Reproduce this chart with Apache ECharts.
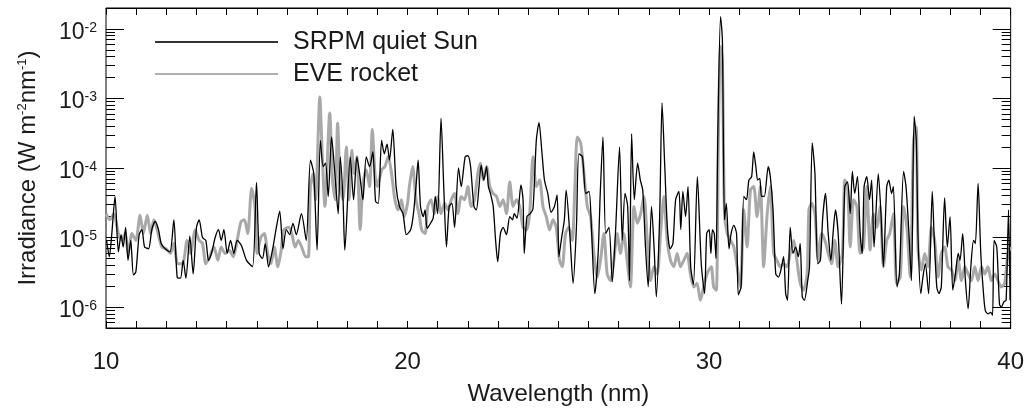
<!DOCTYPE html>
<html><head><meta charset="utf-8">
<script src="https://cdn.jsdelivr.net/npm/echarts@6/dist/echarts.min.js"></script>
<style>html,body{margin:0;padding:0;background:#fff}#c{width:1027px;height:414px}</style>
</head><body><div id="c"></div>
<script>
const srpmWl = [10.02,10.11,10.19,10.30,10.41,10.50,10.57,10.65,10.73,10.82,10.91,10.99,11.10,11.19,11.28,11.41,11.52,11.63,11.74,11.83,11.96,12.12,12.25,12.36,12.47,12.56,12.65,12.78,12.89,13.00,13.09,13.20,13.31,13.40,13.51,13.62,13.73,13.82,13.91,14.02,14.13,14.24,14.35,14.49,14.66,14.86,14.99,15.08,15.19,15.28,15.39,15.52,15.65,15.76,15.87,15.98,16.09,16.20,16.31,16.48,16.64,16.78,16.89,17.00,17.11,17.20,17.28,17.37,17.48,17.59,17.70,17.77,17.86,17.92,18.10,18.21,18.32,18.41,18.52,18.63,18.74,18.85,18.94,19.03,19.14,19.23,19.32,19.40,19.51,19.62,19.73,19.85,19.96,
20.10,20.19,20.28,20.35,20.43,20.52,20.58,20.65,20.76,20.85,20.92,21.00,21.11,21.20,21.29,21.38,21.47,21.56,21.69,21.78,21.91,22.00,22.09,22.20,22.28,22.37,22.44,22.53,22.62,22.68,22.75,22.84,22.92,22.99,23.08,23.17,23.28,23.39,23.48,23.54,23.63,23.76,23.83,23.87,23.96,24.07,24.16,24.27,24.36,24.45,24.54,24.65,24.76,24.87,24.96,25.02,25.11,25.20,25.26,25.38,25.49,25.60,25.68,25.80,25.91,26.02,26.10,26.21,26.32,26.39,26.48,26.57,26.68,26.79,26.90,27.03,27.12,27.21,27.30,27.36,27.43,27.52,27.63,27.72,27.80,27.89,27.98,28.09,28.18,28.25,28.36,28.44,28.53,28.62,28.71,28.80,28.89,29.00,29.06,29.13,29.22,29.30,29.39,29.48,29.61,29.74,29.85,29.92,
30.00,30.06,30.11,30.17,30.23,30.29,30.38,30.44,30.51,30.57,30.66,30.73,30.82,30.91,30.97,31.06,31.15,31.24,31.32,31.41,31.48,31.55,31.61,31.68,31.74,31.83,31.96,32.03,32.12,32.21,32.30,32.38,32.47,32.54,32.60,32.69,32.78,32.87,32.96,33.02,33.09,33.16,33.27,33.33,33.42,33.51,33.60,33.69,33.77,33.86,33.95,34.04,34.11,34.19,34.28,34.39,34.50,34.59,34.68,34.75,34.83,34.92,35.01,35.08,35.14,35.23,35.32,35.39,35.47,35.61,35.70,35.78,35.89,35.96,36.05,36.11,36.23,36.31,36.45,36.53,36.62,36.71,36.80,36.87,36.93,37.02,37.09,37.17,37.28,37.40,37.46,37.55,37.62,37.70,37.81,37.90,37.99,38.08,38.17,38.26,38.32,38.41,38.50,38.59,38.68,38.77,38.83,38.92,39.01,39.10,39.16,39.25,39.34,39.40,39.45,39.54,39.63,39.69,39.78,39.85,39.93,39.98];
const srpmIrr = [9.1e-6,5.3e-6,1.1e-5,3.9e-5,6.2e-6,1.1e-5,7.3e-6,1.4e-5,4.7e-6,9.1e-6,2.9e-6,3.2e-6,1.1e-5,1.3e-5,7.3e-6,6.9e-6,1.3e-5,1.7e-5,1.3e-5,8.2e-6,6.9e-6,6.2e-6,1.8e-5,2.7e-6,2.6e-6,4.7e-6,2.6e-6,1.05e-5,3.0e-6,1.4e-5,1.8e-5,1.0e-5,9.1e-6,4.7e-6,6.2e-6,1.0e-5,1.3e-5,9.1e-6,1.3e-5,5.9e-6,9.1e-6,5.9e-6,9.1e-6,7.7e-6,4.7e-6,3.8e-6,6.2e-5,5.9e-6,5.0e-6,8.2e-6,3.8e-6,6.6e-6,1.4e-5,2.4e-5,6.9e-6,1.3e-5,1.1e-5,1.6e-5,1.1e-5,2.2e-5,9.1e-6,1.3e-4,8.3e-5,6.6e-6,2.5e-4,1.05e-4,1.17e-4,3.9e-5,2.8e-4,8.3e-5,2.2e-5,1.45e-4,3.5e-5,6.6e-6,1.45e-4,3.5e-5,1.45e-4,8.3e-5,3.5e-5,1.45e-4,1.05e-4,1.7e-4,3.3e-5,3.1e-5,2.5e-4,1.6e-4,2.2e-4,1.3e-4,3.6e-4,5.4e-5,2.8e-5,2.2e-5,1.1e-5,
1.28e-5,2.1e-5,5.4e-5,1.3e-4,2.8e-5,2.0e-5,2.5e-5,1.35e-5,1.6e-5,1.9e-5,3.9e-5,2.2e-5,5.2e-4,5.4e-5,7.3e-6,2.8e-5,3.1e-5,1.4e-5,1.0e-4,5.4e-5,1.45e-4,1.5e-4,1.05e-4,2.8e-5,2.5e-5,5.4e-5,1.1e-4,6.7e-5,1.05e-4,5.4e-5,4.3e-5,2.8e-5,9.1e-6,4.5e-6,1.14e-5,1.4e-5,1.1e-5,2.0e-5,1.8e-5,2.2e-5,1.9e-5,5.7e-5,3.5e-5,5.9e-6,2.0e-5,2.2e-5,2.6e-5,2.5e-4,4.5e-4,1.8e-4,6.7e-5,4.3e-5,2.3e-5,2.8e-5,4.1e-5,5.3e-6,1.0e-5,1.8e-5,4.8e-5,1.14e-5,2.2e-6,1.4e-5,1.6e-4,1.45e-4,4.3e-5,4.6e-5,1.3e-5,1.56e-6,5.9e-6,4.3e-5,2.8e-4,1.14e-5,1.4e-5,2.3e-6,1.3e-5,2.0e-4,9.1e-6,4.3e-5,2.8e-5,2.4e-6,3.1e-4,3.5e-5,1.17e-4,6.7e-5,4.8e-5,7.3e-6,1.95e-6,2.8e-5,6.6e-6,1.4e-6,2.0e-5,8.6e-4,1.05e-4,1.3e-5,6.9e-6,8.2e-6,3.5e-5,4.6e-5,1.3e-5,4.6e-5,2.0e-5,5.4e-5,3.8e-6,2.1e-6,7.5e-5,4.2e-6,1.56e-6,1.14e-5,
1.3e-5,5.9e-6,1.3e-5,1.14e-5,5.0e-6,3.2e-4,1.5e-2,7.1e-3,1.8e-5,3.1e-5,6.9e-6,1.14e-5,1.5e-5,1.14e-5,1.5e-6,1.95e-6,3.9e-5,3.5e-5,6.7e-5,7.5e-5,1.7e-4,1.05e-4,6.7e-5,7.1e-5,3.9e-5,3.9e-5,1.05e-4,7.5e-5,2.5e-5,3.0e-6,2.7e-6,3.4e-6,5.3e-6,1.56e-6,1.25e-6,1.4e-5,5.9e-6,7.3e-6,5.3e-6,8.2e-6,1.4e-6,1.25e-6,2.4e-6,3.8e-6,2.3e-4,8.3e-5,4.2e-6,4.7e-6,2.0e-5,4.3e-5,1.14e-5,4.7e-6,1.14e-5,2.5e-5,1.14e-5,1.1e-6,5.4e-5,6.3e-5,2.2e-5,8.9e-5,4.3e-5,7.5e-5,1.14e-5,5.9e-6,5.4e-5,7.5e-5,3.5e-5,6.7e-5,7.3e-6,8.3e-5,2.2e-5,3.8e-6,5.4e-5,6.7e-5,4.3e-5,5.4e-5,1.95e-6,3.0e-6,8.9e-5,5.4e-5,1.3e-5,2.4e-6,5.5e-4,2.5e-4,1.0e-5,1.56e-6,2.7e-6,4.2e-6,1.56e-6,4.6e-5,1.14e-5,1.95e-6,1.56e-6,1.95e-6,3.7e-5,7.3e-6,2.0e-5,1.75e-6,3.0e-6,5.9e-6,4.7e-6,1.14e-5,2.4e-6,9.5e-7,3.8e-6,9.1e-6,8.2e-6,6.0e-5,5.9e-6,1.56e-6,8.9e-7,8.0e-7,8.4e-7,7.6e-7,9.1e-6,7.3e-6,1.1e-6,1.0e-6,1.2e-6,1.25e-6,2.5e-5,1.25e-6];
const eveWl = [10.00,10.13,10.26,10.41,10.53,10.63,10.74,10.86,10.99,11.13,11.24,11.37,11.48,11.59,11.70,11.85,11.99,12.14,12.25,12.38,12.54,12.69,12.80,12.96,13.09,13.20,13.31,13.44,13.58,13.71,13.82,13.95,14.08,14.22,14.35,14.48,14.59,14.70,14.83,14.94,15.01,15.14,15.25,15.36,15.47,15.58,15.70,15.81,15.89,16.05,16.16,16.27,16.38,16.49,16.62,16.71,16.78,16.87,16.95,17.09,17.17,17.26,17.42,17.51,17.60,17.68,17.77,17.86,17.97,18.06,18.15,18.23,18.32,18.43,18.52,18.63,18.74,18.83,18.92,19.00,19.14,19.25,19.36,19.47,19.58,19.69,19.80,19.89,20.00,
20.06,20.17,20.28,20.39,20.47,20.58,20.67,20.78,20.89,21.00,21.11,21.23,21.34,21.45,21.56,21.67,21.78,21.89,22.00,22.11,22.22,22.33,22.42,22.51,22.62,22.73,22.84,22.95,23.06,23.17,23.28,23.39,23.50,23.61,23.72,23.83,23.94,24.05,24.16,24.27,24.38,24.49,24.60,24.71,24.82,24.93,25.04,25.13,25.24,25.35,25.46,25.55,25.63,25.74,25.85,25.96,26.07,26.18,26.29,26.40,26.51,26.62,26.73,26.84,26.95,27.06,27.17,27.28,27.39,27.51,27.62,27.73,27.84,27.95,28.06,28.17,28.28,28.39,28.50,28.61,28.72,28.83,28.94,29.05,29.16,29.27,29.38,29.49,29.60,29.71,29.82,29.93,
30.07,30.15,30.24,30.31,30.38,30.44,30.51,30.60,30.71,30.82,30.93,31.04,31.15,31.26,31.37,31.48,31.59,31.70,31.81,31.92,32.03,32.14,32.25,32.36,32.47,32.58,32.69,32.80,32.91,33.02,33.13,33.25,33.31,33.40,33.51,33.62,33.73,33.84,33.95,34.06,34.17,34.28,34.42,34.50,34.59,34.68,34.79,34.90,35.01,35.12,35.23,35.34,35.45,35.56,35.67,35.78,35.89,35.99,36.11,36.22,36.34,36.45,36.56,36.67,36.78,36.87,36.93,37.04,37.15,37.26,37.37,37.48,37.59,37.70,37.81,37.92,38.04,38.15,38.26,38.37,38.48,38.59,38.70,38.81,38.92,39.03,39.14,39.25,39.36,39.47,39.58,39.69,39.80,39.91,40.00];
const eveIrr = [2.2e-5,1.8e-5,2.2e-5,1.14e-5,9.1e-6,1.14e-5,5.9e-6,1.14e-5,9.1e-6,2.1e-5,1.14e-5,2.1e-5,1.14e-5,1.8e-5,1.28e-5,7.3e-6,6.9e-6,5.9e-6,8.2e-6,4.2e-6,4.2e-6,9.1e-6,5.9e-6,1.28e-5,9.1e-6,8.2e-6,4.2e-6,5.3e-6,7.3e-6,4.7e-6,7.3e-6,5.9e-6,6.6e-6,5.3e-6,9.1e-6,1.7e-5,1.8e-5,1.14e-5,5.1e-5,2.8e-5,5.9e-6,1.02e-5,1.14e-5,5.9e-6,4.2e-6,7.3e-6,3.8e-6,6.6e-6,1.28e-5,1.4e-5,1.14e-5,7.3e-6,9.1e-6,7.3e-6,5.3e-6,5.3e-6,5.4e-5,8.3e-5,3.5e-5,1.05e-3,1.6e-4,2.8e-5,6.2e-4,6.7e-5,3.5e-5,4.4e-4,5.4e-5,3.5e-5,2.0e-4,3.5e-5,1.8e-4,8.3e-5,1.45e-4,1.3e-5,6.0e-5,9.4e-5,5.4e-5,3.6e-4,8.3e-5,5.4e-5,9.4e-5,1.05e-4,1.45e-4,8.3e-5,3.5e-5,2.5e-5,3.5e-5,2.0e-5,3.1e-5,
5.4e-5,1.05e-4,3.5e-5,2.1e-5,1.28e-5,1.14e-5,2.8e-5,3.5e-5,2.2e-5,3.9e-5,2.2e-5,3.1e-5,2.5e-5,3.5e-5,4.3e-5,2.2e-5,3.9e-5,3.5e-5,5.4e-5,2.8e-5,3.5e-5,8.3e-5,1.17e-4,6.7e-5,1.05e-4,5.4e-5,4.3e-5,3.9e-5,2.8e-5,3.5e-5,2.2e-5,6.3e-5,2.8e-5,3.5e-5,2.8e-5,1.4e-5,1.28e-5,2.2e-5,1.45e-4,5.4e-5,6.7e-5,2.8e-5,2.0e-5,1.28e-5,1.8e-5,1.4e-5,4.7e-6,3.8e-6,1.14e-5,1.4e-5,9.1e-6,5.4e-5,2.8e-4,2.3e-4,8.3e-5,2.8e-5,2.0e-5,5.9e-6,2.7e-6,4.7e-6,1.14e-5,3.0e-6,2.4e-6,4.7e-6,1.14e-5,5.9e-6,1.14e-5,4.7e-6,1.95e-6,2.8e-5,1.6e-5,2.2e-5,3.9e-5,9.1e-6,2.4e-6,3.8e-6,3.0e-6,1.14e-5,3.9e-5,9.1e-6,4.7e-6,3.8e-6,5.9e-6,3.8e-6,4.7e-6,5.9e-6,3.0e-6,1.95e-6,2.2e-6,1.25e-6,1.95e-6,3.0e-6,
3.8e-6,1.95e-6,1.75e-6,3.2e-4,5.6e-3,3.5e-3,2.2e-5,1.14e-5,9.1e-6,7.3e-6,3.8e-6,1.95e-6,2.5e-5,7.3e-6,4.8e-5,5.4e-5,2.0e-5,5.4e-5,3.8e-6,2.0e-5,5.4e-5,5.9e-6,4.7e-6,3.8e-6,4.2e-6,3.8e-6,5.9e-6,9.1e-6,4.7e-6,2.2e-6,1.75e-6,3.0e-6,2.5e-5,3.1e-5,2.2e-5,4.7e-6,1.14e-5,9.1e-6,5.9e-6,4.2e-6,9.1e-6,3.8e-6,5.9e-6,6.7e-5,5.4e-5,7.3e-6,3.5e-5,2.8e-5,5.9e-6,7.3e-6,5.4e-5,6.6e-6,2.2e-5,1.4e-5,2.8e-5,3.8e-6,9.1e-6,1.14e-5,2.2e-5,2.2e-6,2.7e-6,2.8e-5,1.4e-5,2.7e-6,2.5e-4,3.9e-4,6.6e-6,3.4e-6,5.9e-6,3.8e-6,1.4e-5,9.1e-6,2.7e-6,5.9e-6,7.3e-6,3.8e-6,3.4e-6,2.4e-6,4.7e-6,2.4e-6,3.8e-6,3.0e-6,2.4e-6,3.8e-6,2.4e-6,3.8e-6,3.0e-6,3.8e-6,2.4e-6,3.0e-6,2.4e-6,1.95e-6,2.2e-6,5.9e-6,7.3e-6];
const xTickLabels = [10, 20, 30, 40];
const yMajorTicks = [1e-6, 1e-5, 1e-4, 1e-3, 1e-2];
const yMinorTicks = [6e-7,7e-7,8e-7,9e-7,2e-6,3e-6,4e-6,5e-6,6e-6,7e-6,8e-6,9e-6,2e-5,3e-5,4e-5,5e-5,6e-5,7e-5,8e-5,9e-5,2e-4,3e-4,4e-4,5e-4,6e-4,7e-4,8e-4,9e-4,2e-3,3e-3,4e-3,5e-3,6e-3,7e-3,8e-3,9e-3];
const seriesNames = ['SRPM quiet Sun', 'EVE rocket'];

const FONT = 'Liberation Sans';
const TXT = '#1a1a1a';
const pair = (xs, ys) => xs.map((x, i) => [x, ys[i]]);

const chart = echarts.init(document.getElementById('c'), null, {renderer: 'canvas'});

function yAxisBase(pos, major, showLabel) {
  return {
    type: 'log', logBase: 10, min: 5e-7, max: 2e-2, position: pos,
    axisLine: {show: false},
    splitLine: {show: false},
    axisTick: {show: true, inside: true, length: major ? 18 : 9, customValues: major ? yMajorTicks : yMinorTicks,
      lineStyle: {color: '#000', width: 1}},
    axisLabel: showLabel ? {
      show: true, customValues: yMajorTicks, margin: 9, padding: [7, 0, 0, 0],
      formatter: v => '{b|10}{s|' + Math.round(Math.log10(v)) + '}',
      rich: {
        b: {fontFamily: FONT, fontSize: 23, color: TXT, lineHeight: 23, verticalAlign: 'bottom'},
        s: {fontFamily: FONT, fontSize: 14, color: TXT, lineHeight: 7, verticalAlign: 'top'}
      }
    } : {show: false}
  };
}

const option = {
  animation: false,
  backgroundColor: '#fff',
  grid: {left: 106, right: 14, top: 8, bottom: 86, show: true, borderColor: '#000', borderWidth: 1, backgroundColor: 'transparent'},
  legend: {
    orient: 'vertical', left: 150, top: 23, itemWidth: 123, itemHeight: 2, itemGap: 4,
    icon: 'rect',
    data: [
      {name: seriesNames[0], itemStyle: {color: '#333'}},
      {name: seriesNames[1], itemStyle: {color: '#b0b0b0'}}
    ],
    textStyle: {fontFamily: FONT, fontSize: 25, color: TXT, lineHeight: 28, padding: [0, 0, 0, 10]}
  },
  xAxis: [
    {
      type: 'value', min: 10, max: 40, interval: 1, position: 'bottom',
      name: 'Wavelength (nm)', nameLocation: 'middle', nameGap: 54,
      nameTextStyle: {fontFamily: FONT, fontSize: 24, color: TXT},
      axisLine: {show: true, lineStyle: {color: '#000'}},
      axisTick: {inside: true, length: 7, lineStyle: {color: '#000'}},
      axisLabel: {margin: 22, fontFamily: FONT, fontSize: 24, color: TXT,
        formatter: v => xTickLabels.indexOf(v) >= 0 ? String(v) : ''},
      splitLine: {show: false}
    },
    {
      type: 'value', min: 10, max: 40, interval: 1, position: 'top',
      axisLine: {show: true, lineStyle: {color: '#000'}},
      axisTick: {inside: true, length: 7, lineStyle: {color: '#000'}},
      axisLabel: {show: false}, splitLine: {show: false}
    }
  ],
  yAxis: [
    Object.assign(yAxisBase('left', true, true), {
      name: '{n|Irradiance (W m}{s|-2}{n|nm}{s|-1}{n|)}', nameLocation: 'middle', nameGap: 66, nameRotate: 90,
      nameTextStyle: {rich: {
        n: {fontFamily: FONT, fontSize: 24, color: TXT, lineHeight: 24, verticalAlign: 'bottom'},
        s: {fontFamily: FONT, fontSize: 13, color: TXT, lineHeight: 8, verticalAlign: 'top'}
      }}
    }),
    yAxisBase('left', false, false),
    yAxisBase('right', true, false),
    yAxisBase('right', false, false)
  ],
  series: [
    {name: seriesNames[1], type: 'line', data: pair(eveWl, eveIrr), xAxisIndex: 0, yAxisIndex: 0,
      showSymbol: false, smooth: 0.25, lineStyle: {color: '#a9a9a9', width: 3}, itemStyle: {color: '#a9a9a9'}, z: 2},
    {name: seriesNames[0], type: 'line', data: pair(srpmWl, srpmIrr), xAxisIndex: 0, yAxisIndex: 0,
      showSymbol: false, smooth: 0.25, lineStyle: {color: '#000', width: 1.3}, itemStyle: {color: '#000'}, z: 3}
  ]
};
chart.setOption(option);
</script></body></html>
